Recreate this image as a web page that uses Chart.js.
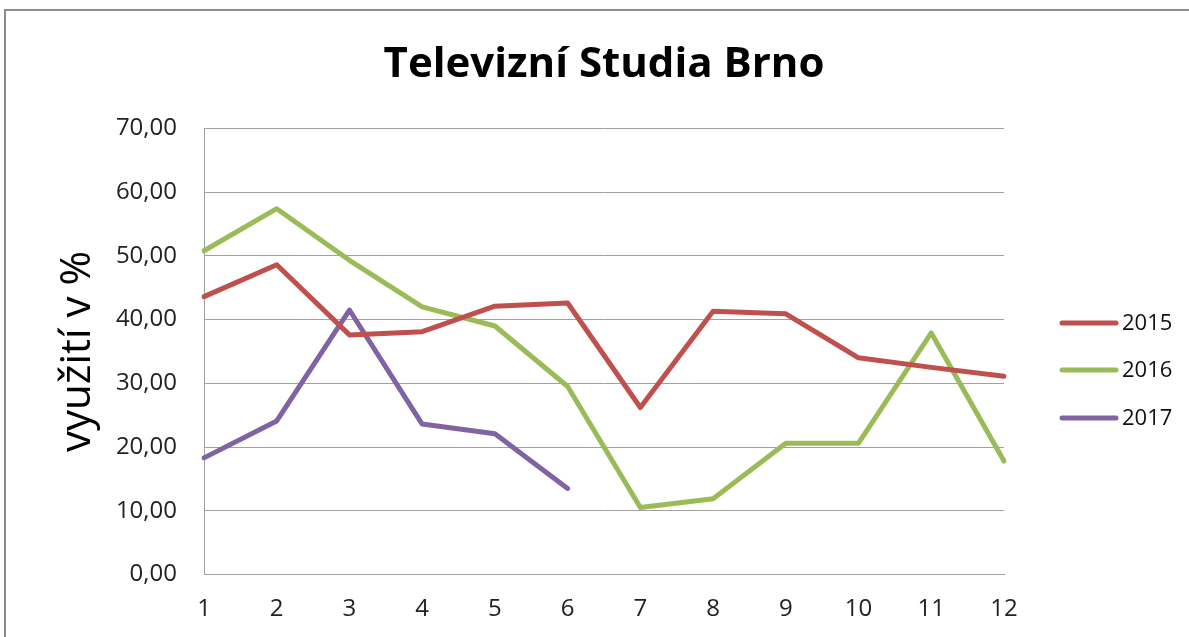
<!DOCTYPE html>
<html>
<head>
<meta charset="utf-8">
<script src="https://cdn.jsdelivr.net/npm/chart.js@4/dist/chart.umd.min.js"></script>
<style>
    html, body { margin: 0; padding: 0; background: #fff; overflow: hidden; }
    #frame { position: absolute; left: 4px; top: 9px; width: 1300px; height: 700px; border: 2px solid #8c8c8c; }
    #wrap { position: absolute; left: 0; top: 0; width: 1189px; height: 637px; }
</style>
</head>
<body>
<div id="frame"></div>
<div id="wrap"><canvas id="chart" width="1189" height="637"></canvas></div>
<script>
// data
const months = ['1', '2', '3', '4', '5', '6', '7', '8', '9', '10', '11', '12']
const years = ['2015', '2016', '2017']
const values2015 = [43.6, 48.6, 37.6, 38.1, 42.1, 42.6, 26.2, 41.3, 40.9, 34.0, 32.5, 31.1]
const values2016 = [50.8, 57.4, 49.3, 42.0, 39.0, 29.5, 10.5, 11.9, 20.6, 20.6, 37.9, 17.8]
const values2017 = [18.3, 24.1, 41.5, 23.6, 22.1, 13.5, null, null, null, null, null, null]
const colors = ['#c0504d', '#9bbb59', '#8064a2']

const FONT = '"Open Sans", "Liberation Sans", sans-serif'

// legenda vpravo, kreslená ručně
const sideLegend = {
    id: 'sideLegend',
    afterDraw(chart) {
        const ctx = chart.ctx
        const rows = [323, 370, 418]
        ctx.save()
        chart.data.datasets.forEach((ds, i) => {
            ctx.strokeStyle = ds.borderColor
            ctx.lineWidth = 5
            ctx.lineCap = 'round'
            ctx.beginPath()
            ctx.moveTo(1062, rows[i])
            ctx.lineTo(1116, rows[i])
            ctx.stroke()
            ctx.fillStyle = '#111'
            ctx.font = '22px ' + FONT
            ctx.textBaseline = 'middle'
            ctx.fillText(ds.label, 1122, rows[i] + 1)
        })
        ctx.restore()
    }
}

const series = [values2015, values2016, values2017]

new Chart(document.getElementById('chart'), {
    type: 'line',
    data: {
        labels: months,
        datasets: series.map((vals, i) => ({
            label: years[i],
            data: vals,
            borderColor: colors[i],
            backgroundColor: colors[i],
            borderWidth: 5,
            borderCapStyle: 'round',
            borderJoinStyle: 'round',
            pointRadius: 0,
            tension: 0,
            spanGaps: false
        }))
    },
    options: {
        responsive: false,
        animation: false,
        layout: {padding: {left: 0, right: 185, top: 0, bottom: 0}},
        plugins: {
            legend: {display: false},
            tooltip: {enabled: false},
            title: {
                display: true,
                fullSize: false,
                text: 'Televizní Studia Brno',
                color: '#000',
                font: {family: FONT, size: 42, weight: 'bold'},
                padding: {top: 40, bottom: 38}
            }
        },
        scales: {
            x: {
                offset: false,
                grid: {display: false, drawTicks: false},
                border: {display: true, color: '#a0a0a0', width: 1},
                ticks: {
                    color: '#222',
                    font: {family: FONT, size: 24},
                    padding: 20,
                    maxRotation: 0,
                    autoSkip: false
                },
                afterFit(scale) { scale.height = 62.5 }
            },
            y: {
                min: 0,
                max: 70,
                ticks: {
                    stepSize: 10,
                    color: '#222',
                    font: {family: FONT, size: 24},
                    padding: 27,
                    callback: v => v.toFixed(2).replace('.', ',')
                },
                grid: {color: '#a0a0a0', lineWidth: 1, drawTicks: false},
                border: {display: true, color: '#a0a0a0', width: 1},
                title: {
                    display: true,
                    text: 'využití v %',
                    color: '#000',
                    font: {family: FONT, size: 42},
                    padding: {top: 53, bottom: 0}
                },
                afterFit(scale) { scale.width = 204 }
            }
        }
    },
    plugins: [sideLegend]
})
</script>
</body>
</html>
